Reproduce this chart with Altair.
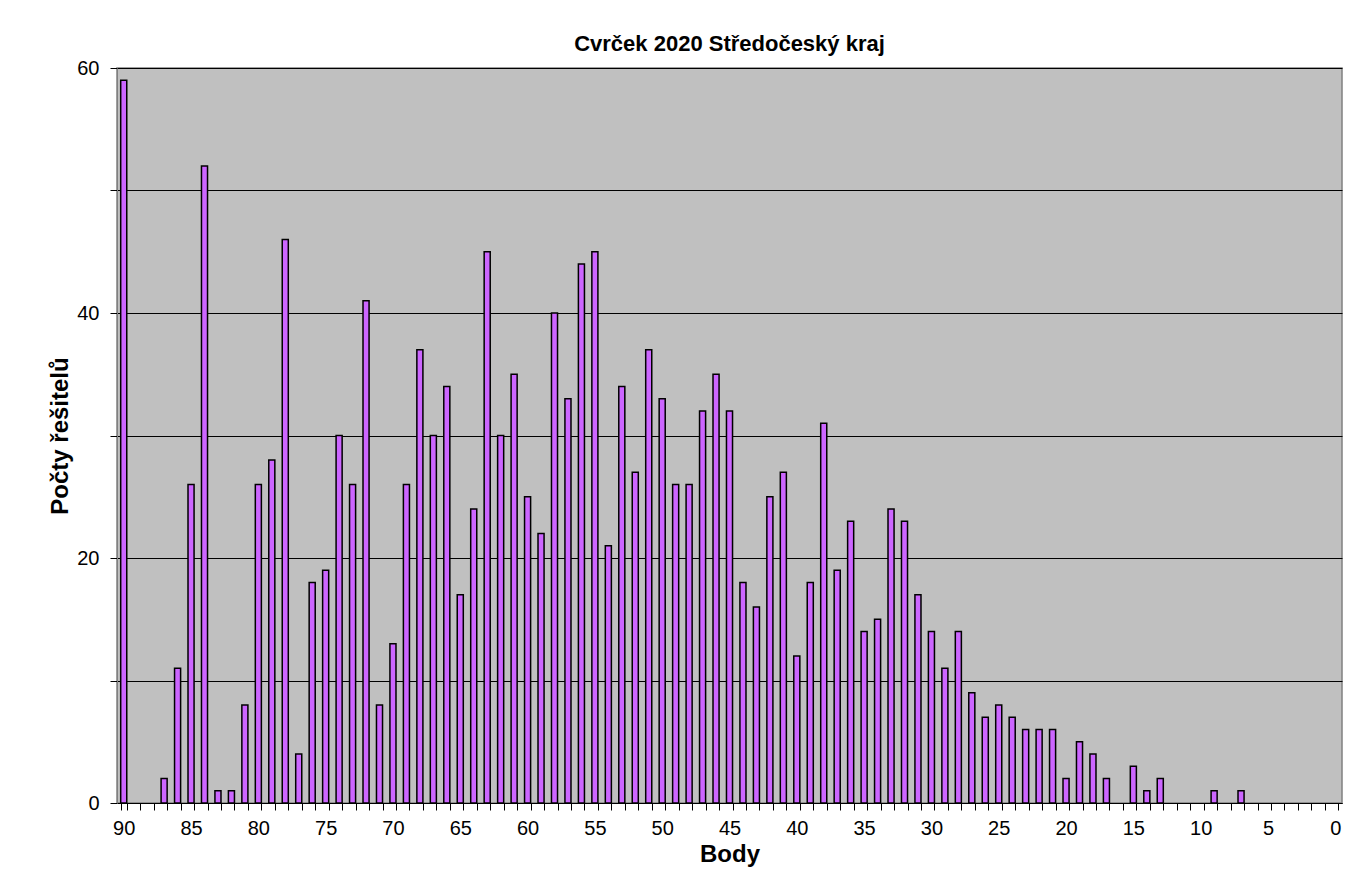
import altair as alt
import pandas as pd

body = list(range(90, -1, -1))
pocty = [
    59, 0, 0, 2, 11, 26, 52, 1, 1, 8,      # 90..81
    26, 28, 46, 4, 18, 19, 30, 26, 41, 8,  # 80..71
    13, 26, 37, 30, 34, 17, 24, 45, 30, 35,  # 70..61
    25, 22, 40, 33, 44, 45, 21, 34, 27, 37,  # 60..51
    33, 26, 26, 32, 35, 32, 18, 16, 25, 27,  # 50..41
    12, 18, 31, 19, 23, 14, 15, 24, 23, 17,  # 40..31
    14, 11, 14, 9, 7, 8, 7, 6, 6, 6,         # 30..21
    2, 5, 4, 2, 0, 3, 1, 2, 0, 0,            # 20..11
    0, 1, 0, 1, 0, 0, 0, 0, 0, 0, 0,         # 10..0
]

df = pd.DataFrame({"Body": body, "Pocet": pocty})
df = df[df["Pocet"] > 0]

FONT = "Liberation Sans"

chart = alt.Chart(df).mark_bar(
    color="#CC66FF", stroke="black", strokeWidth=1.5
).encode(
    x=alt.X(
        "Body:O",
        scale=alt.Scale(domain=body, paddingInner=0.55, paddingOuter=0.275),
        axis=alt.Axis(
            title="Body",
            labelAngle=0,
            labelExpr="datum.value % 5 == 0 ? datum.label : ''",
            tickBand="extent",
            tickSize=7,
            tickColor="black",
            domainColor="black",
            labelPadding=8,
            titlePadding=4,
        ),
    ),
    y=alt.Y(
        "Pocet:Q",
        scale=alt.Scale(domain=[0, 60], nice=False),
        axis=alt.Axis(
            title="Počty řešitelů",
            values=[0, 10, 20, 30, 40, 50, 60],
            labelExpr="datum.value % 20 == 0 ? datum.label : ''",
            grid=True,
            gridColor="black",
            gridWidth=1,
            tickSize=7,
            tickColor="black",
            domainColor="#808080",
            labelPadding=11,
            titlePadding=4,
        ),
    ),
).properties(
    width=1225,
    height=735,
    background="white",
    autosize=alt.AutoSizeParams(type="none"),
    padding={"left": 109, "top": 60, "right": 12, "bottom": 70},
    title=alt.TitleParams(
        "Cvrček 2020 Středočeský kraj",
        font=FONT, fontSize=22, fontWeight="bold", color="black",
        anchor="middle", offset=2,
    ),
).configure_view(
    fill="#C0C0C0", stroke="#808080", strokeWidth=1.5
).configure_axis(
    labelFont=FONT, labelFontSize=20, labelColor="black",
    titleFont=FONT, titleFontSize=24, titleFontWeight="bold", titleColor="black",
)

chart.save("out.html", embed_options={"renderer": "svg", "actions": False})
